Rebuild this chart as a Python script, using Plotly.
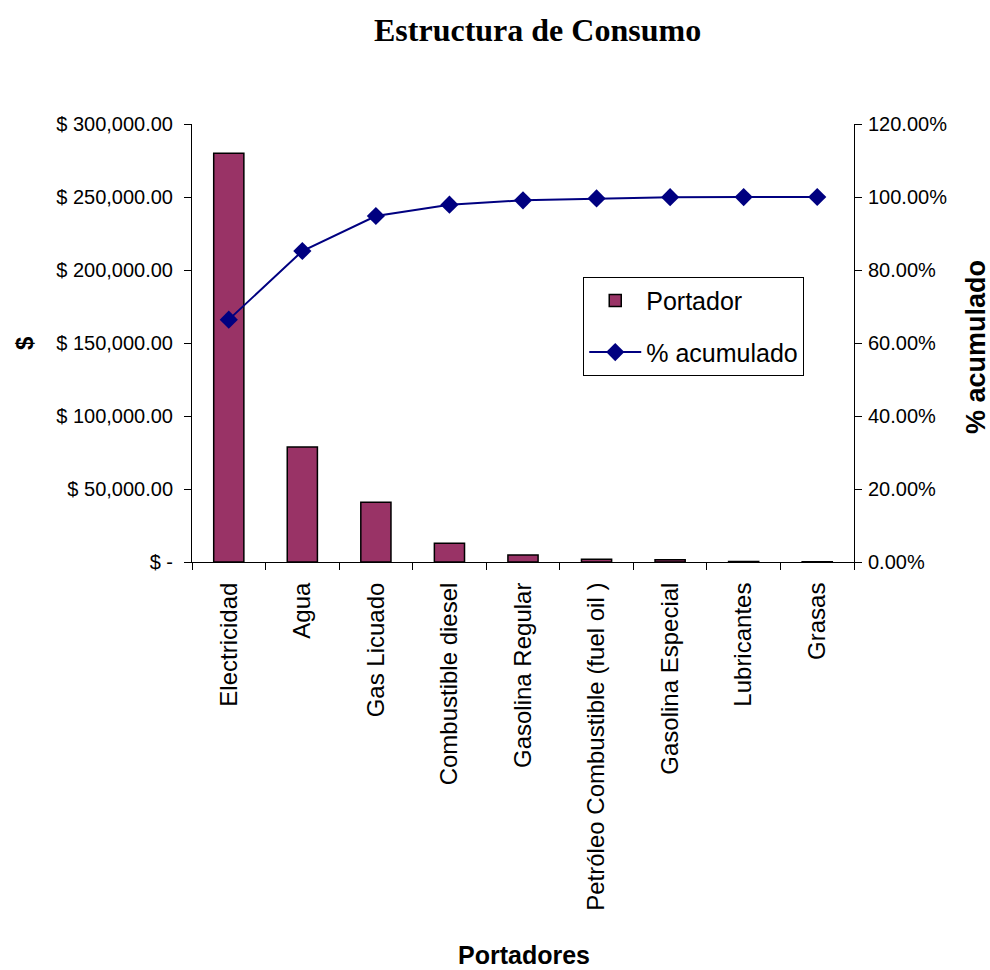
import plotly.graph_objects as go

# Consumption by energy carrier and cumulative share
portadores = [
    "Electricidad",
    "Agua",
    "Gas Licuado",
    "Combustible diesel",
    "Gasolina Regular",
    "Petróleo Combustible (fuel oil )",
    "Gasolina Especial",
    "Lubricantes",
    "Grasas",
]
consumo = [280000, 78800, 41000, 12800, 4800, 1800, 1600, 300, 100]
acumulado = [66.4, 85.2, 94.8, 97.9, 99.1, 99.6, 99.95, 99.98, 100.0]

y_ticks = [0, 50000, 100000, 150000, 200000, 250000, 300000]
y_tick_text = ["$ -", "$ 50,000.00", "$ 100,000.00", "$ 150,000.00",
               "$ 200,000.00", "$ 250,000.00", "$ 300,000.00"]
y2_ticks = [0, 20, 40, 60, 80, 100, 120]
y2_tick_text = ["0.00%", "20.00%", "40.00%", "60.00%", "80.00%", "100.00%", "120.00%"]

SANS = "Liberation Sans, Arial, sans-serif"

fig = go.Figure()

fig.add_trace(go.Bar(
    x=portadores, y=consumo, name="Portador",
    marker=dict(color="#993366", line=dict(color="#000000", width=1.5)),
    width=0.41, legendgroup="a",
))

fig.add_trace(go.Scatter(
    x=portadores, y=acumulado, name="% acumulado", yaxis="y2",
    mode="lines+markers",
    line=dict(color="#000080", width=2),
    marker=dict(symbol="diamond", size=14, color="#000080"),
    legendgroup="b",
))

axis_common = dict(showline=True, linecolor="#000000", linewidth=1,
                   showgrid=False, zeroline=False, ticks="outside",
                   tickcolor="#000000", ticklen=7)

fig.update_layout(
    width=990, height=970,
    margin=dict(l=192, r=136, t=124, b=408),
    paper_bgcolor="white", plot_bgcolor="white",
    showlegend=True,
    xaxis=dict(**axis_common, type="category", range=[-0.5, 8.5],
               tickson="boundaries", tickangle=-90,
               tickfont=dict(family=SANS, size=24, color="#000000"),
               ticklabelstandoff=10),
    yaxis=dict(**axis_common, range=[0, 300000], tickvals=y_ticks,
               ticktext=y_tick_text,
               tickfont=dict(family=SANS, size=20, color="#000000"),
               ticklabelstandoff=7),
    yaxis2=dict(**axis_common, range=[0, 120], overlaying="y", side="right",
                tickvals=y2_ticks, ticktext=y2_tick_text,
                tickfont=dict(family=SANS, size=20, color="#000000"),
                ticklabelstandoff=2),
    legend=dict(x=0.591, y=0.651, xanchor="left", yanchor="top",
                bordercolor="#000000", borderwidth=1, bgcolor="white",
                font=dict(family=SANS, size=25, color="#000000"),
                tracegroupgap=16, itemwidth=52),
    annotations=[
        dict(text="<b>Estructura de Consumo</b>", xref="paper", yref="paper",
             x=(537 - 192) / 662, y=(562 - 30) / 438, xanchor="center",
             yanchor="middle", showarrow=False,
             font=dict(family="Liberation Serif, Times New Roman, serif",
                       size=32, color="#000000")),
        dict(text="<b>$</b>", xref="paper", yref="paper",
             x=(24 - 192) / 662, y=(562 - 343) / 438, xanchor="center",
             yanchor="middle", showarrow=False, textangle=-90,
             font=dict(family=SANS, size=24, color="#000000")),
        dict(text="<b>% acumulado</b>", xref="paper", yref="paper",
             x=(976 - 192) / 662, y=(562 - 347) / 438, xanchor="center",
             yanchor="middle", showarrow=False, textangle=-90,
             font=dict(family=SANS, size=27, color="#000000")),
        dict(text="<b>Portadores</b>", xref="paper", yref="paper",
             x=(524 - 192) / 662, y=(562 - 955) / 438, xanchor="center",
             yanchor="middle", showarrow=False,
             font=dict(family=SANS, size=25, color="#000000")),
    ],
)

fig.write_html("out.html")
